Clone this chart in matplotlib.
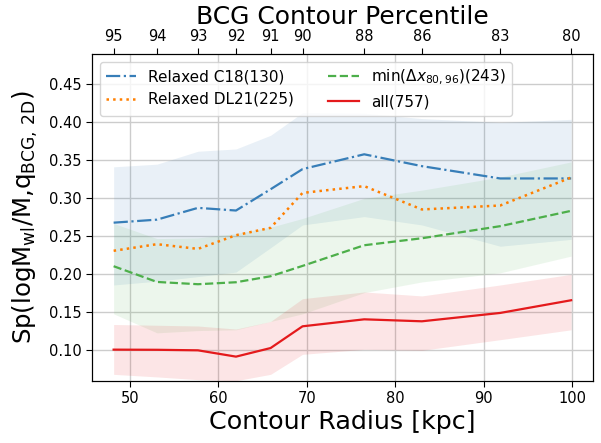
import matplotlib
matplotlib.use("Agg")
import matplotlib.pyplot as plt
import numpy as np

# Data
radius = [48.15, 53.05, 57.68, 61.98, 65.89, 69.50, 76.47, 82.99, 91.84, 99.86]
percentile_labels = ["95", "94", "93", "92", "91", "90", "88", "86", "83", "80"]

c18 = [0.268, 0.272, 0.2875, 0.284, 0.312, 0.3385, 0.358, 0.3424, 0.3262, 0.3262]
c18_lo = [0.186, 0.191, 0.197, 0.203, 0.235, 0.265, 0.276, 0.265, 0.237, 0.246]
c18_hi = [0.3415, 0.345, 0.362, 0.365, 0.383, 0.4127, 0.412, 0.405, 0.400, 0.404]

dl21 = [0.231, 0.2397, 0.2335, 0.2515, 0.2612, 0.3072, 0.3161, 0.2854, 0.2906, 0.3275]

mind = [0.2107, 0.190, 0.187, 0.1896, 0.1975, 0.2111, 0.2383, 0.2475, 0.2634, 0.2836]
mind_lo = [0.148, 0.123, 0.126, 0.127, 0.138, 0.148, 0.176, 0.190, 0.202, 0.224]
mind_hi = [0.267, 0.247, 0.248, 0.2537, 0.262, 0.2735, 0.300, 0.3108, 0.328, 0.348]

allv = [0.1009, 0.1007, 0.100, 0.0917, 0.103, 0.1316, 0.1408, 0.1382, 0.1492, 0.1659]
all_lo = [0.0684, 0.065, 0.0614, 0.060, 0.0684, 0.0947, 0.1013, 0.100, 0.114, 0.127]
all_hi = [0.134, 0.133, 0.132, 0.128, 0.138, 0.168, 0.1768, 0.1716, 0.186, 0.200]

c_blue = "#377eb8"
c_orange = "#ff7f00"
c_green = "#4daf4a"
c_red = "#e41a1c"

fig = plt.figure(figsize=(6.01, 4.43), dpi=100)
ax = fig.add_axes([0.153, 0.1406, 0.834, 0.7375])

ax.fill_between(radius, c18_lo, c18_hi, color=c_blue, alpha=0.11, lw=0)
ax.fill_between(radius, mind_lo, mind_hi, color=c_green, alpha=0.10, lw=0)
ax.fill_between(radius, all_lo, all_hi, color=c_red, alpha=0.11, lw=0)

ax.plot(radius, c18, color=c_blue, ls="-.", lw=1.6, label="Relaxed C18(130)")
ax.plot(radius, dl21, color=c_orange, ls=":", lw=1.8, label="Relaxed DL21(225)")
ax.plot(radius, mind, color=c_green, ls="--", lw=1.6,
        label=r"min($\Delta x_{80,96}$)(243)")
ax.plot(radius, allv, color=c_red, ls="-", lw=1.6, label="all(757)")

ax.set_xlim(45.7, 102.35)
ax.set_ylim(0.06, 0.49)
ax.set_xticks([50, 60, 70, 80, 90, 100])
ax.set_yticks([0.10, 0.15, 0.20, 0.25, 0.30, 0.35, 0.40, 0.45])
ax.grid(True, color="#cccccc", lw=1.0)
ax.set_axisbelow(True)
ax.tick_params(labelsize=10.5, length=4)
ax.set_xlabel("Contour Radius [kpc]", fontsize=18.3, labelpad=3)
ax.set_ylabel(r"Sp(logM$_{\rm wl}$/M,q$_{\rm BCG,\,2D}$)", fontsize=17.6, labelpad=6)

ax2 = ax.twiny()
ax2.set_xlim(ax.get_xlim())
ax2.set_xticks(radius)
ax2.set_xticklabels(percentile_labels)
ax2.tick_params(labelsize=10.5, length=4, pad=3)
ax2.set_xlabel("BCG Contour Percentile", fontsize=18.0, labelpad=4)

ax.legend(loc="upper left", ncol=2, fontsize=11, columnspacing=2.2,
          handlelength=2.0, borderaxespad=0.5)

fig.savefig("out.png", dpi=100)
